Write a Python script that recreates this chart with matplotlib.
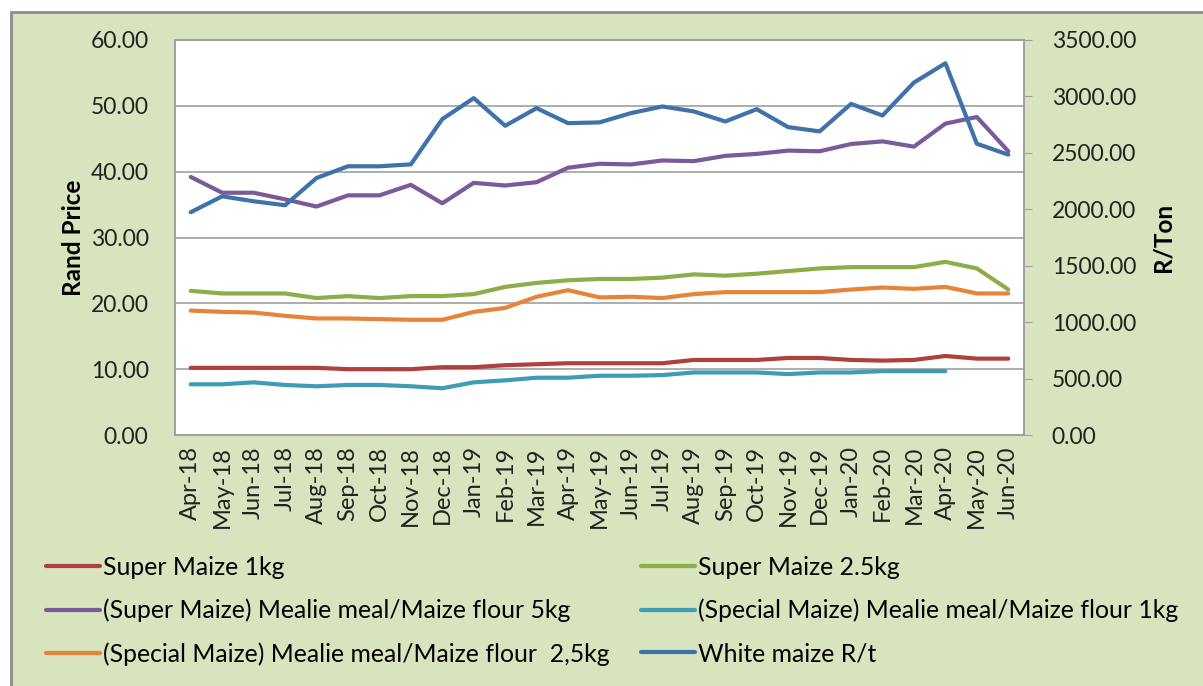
import matplotlib.pyplot as plt
from matplotlib.patches import Rectangle

# Data
months = ["Apr-18", "May-18", "Jun-18", "Jul-18", "Aug-18", "Sep-18", "Oct-18", "Nov-18", "Dec-18",
          "Jan-19", "Feb-19", "Mar-19", "Apr-19", "May-19", "Jun-19", "Jul-19", "Aug-19", "Sep-19",
          "Oct-19", "Nov-19", "Dec-19", "Jan-20", "Feb-20", "Mar-20", "Apr-20", "May-20", "Jun-20"]

super_1kg = [10.2, 10.2, 10.2, 10.2, 10.2, 10.0, 10.0, 10.0, 10.3, 10.3, 10.6, 10.75, 10.9, 10.9,
             10.9, 10.9, 11.4, 11.4, 11.4, 11.7, 11.7, 11.4, 11.3, 11.4, 12.0, 11.6, 11.6]
super_25kg = [21.9, 21.5, 21.5, 21.5, 20.8, 21.1, 20.8, 21.1, 21.1, 21.4, 22.5, 23.1, 23.5, 23.7,
              23.7, 23.9, 24.4, 24.2, 24.5, 24.9, 25.3, 25.5, 25.5, 25.5, 26.3, 25.3, 22.1]
super_5kg = [39.2, 36.8, 36.8, 35.8, 34.7, 36.4, 36.4, 38.0, 35.2, 38.3, 37.9, 38.4, 40.6, 41.2,
             41.1, 41.7, 41.6, 42.4, 42.7, 43.2, 43.1, 44.2, 44.6, 43.8, 47.3, 48.3, 43.1]
special_1kg = [7.7, 7.7, 8.0, 7.6, 7.4, 7.6, 7.6, 7.4, 7.1, 8.0, 8.3, 8.7, 8.7, 9.0,
               9.0, 9.1, 9.5, 9.5, 9.5, 9.25, 9.5, 9.5, 9.7, 9.7, 9.7, None, None]
special_25kg = [18.9, 18.7, 18.6, 18.1, 17.7, 17.7, 17.6, 17.5, 17.5, 18.7, 19.3, 21.0, 22.0, 20.9,
                21.0, 20.8, 21.4, 21.7, 21.7, 21.7, 21.7, 22.1, 22.4, 22.2, 22.5, 21.5, 21.5]
white_maize = [1974, 2115, 2071, 2036, 2277, 2381, 2381, 2398, 2799, 2985, 2740, 2896, 2763, 2770,
               2852, 2911, 2867, 2778, 2887, 2728, 2690, 2934, 2831, 3123, 3294, 2581, 2484]

labels = ["Super Maize 1kg", "Super Maize 2.5kg",
          "(Super Maize) Mealie meal/Maize flour 5kg", "(Special Maize) Mealie meal/Maize flour 1kg",
          "(Special Maize) Mealie meal/Maize flour  2,5kg", "White maize R/t"]
colors = ["#B0403D", "#8DAD48", "#7A5A9A", "#3F9CB6", "#E8843A", "#3F72AA"]

plt.rcParams['font.family'] = ['Lato', 'DejaVu Sans']

fig = plt.figure(figsize=(12.03, 6.86), dpi=100)
fig.patch.set_facecolor("white")
fig.patches.append(Rectangle((11 / 1203, -0.01), 1.0, 1 - 12 / 686 + 0.01, transform=fig.transFigure,
                             facecolor="#D7E4BD", edgecolor="#8C8C8C", linewidth=2, zorder=-10))

ax = fig.add_axes([175 / 1203, 1 - 435 / 686, (1024 - 175) / 1203, (435 - 40) / 686])
ax2 = ax.twinx()
x = list(range(len(months)))

series = [super_1kg, super_25kg, super_5kg, special_1kg, special_25kg]
handles = []
for i in range(len(series)):
    yy = [float('nan') if v is None else v for v in series[i]]
    h, = ax.plot(x, yy, color=colors[i], linewidth=3, label=labels[i], solid_capstyle="round")
    handles.append(h)
h, = ax2.plot(x, white_maize, color=colors[5], linewidth=3, label=labels[5], solid_capstyle="round")
handles.append(h)

ax.set_xlim(-0.5, len(months) - 0.5)
ax.set_ylim(0, 60)
ax.set_yticks(range(0, 61, 10))
ax.set_yticklabels([f"{v:.2f}" for v in range(0, 61, 10)])
ax2.set_ylim(0, 3500)
ax2.set_yticks(range(0, 3501, 500))
ax2.set_yticklabels([f"{v:.2f}" for v in range(0, 3501, 500)])
ax.set_xticks(x)
ax.set_xticklabels(months, rotation=90)

ax.grid(axis="y", color="#A0A0A0", linewidth=1.2)
ax.set_axisbelow(True)
for a in (ax, ax2):
    for s in a.spines.values():
        s.set_color("#A0A0A0")
        s.set_linewidth(1.2)
ax.tick_params(axis="y", length=0, labelsize=16.5, pad=19, colors="#222222")
ax.tick_params(axis="x", length=0, labelsize=17, pad=8, colors="#222222")
ax2.tick_params(axis="y", length=6, color="#A0A0A0", labelsize=16.5, pad=14, labelcolor="#222222")

ax.set_ylabel("Rand Price", fontsize=17.5, fontweight="bold", labelpad=4)
ax2.set_ylabel("R/Ton", fontsize=17.5, fontweight="bold", labelpad=11)

# two legend columns, placed separately
for cols, x0 in (([0, 2, 4], 36), ([1, 3, 5], 631)):
    fig.legend([handles[i] for i in cols], [labels[i] for i in cols], ncol=1, frameon=False,
               loc="upper left", bbox_to_anchor=(x0 / 1203, 1 - 546 / 686), fontsize=17.8,
               handlelength=2.2, handletextpad=0.1, labelspacing=0.8, borderaxespad=0)

fig.savefig("out.png", dpi=100)
